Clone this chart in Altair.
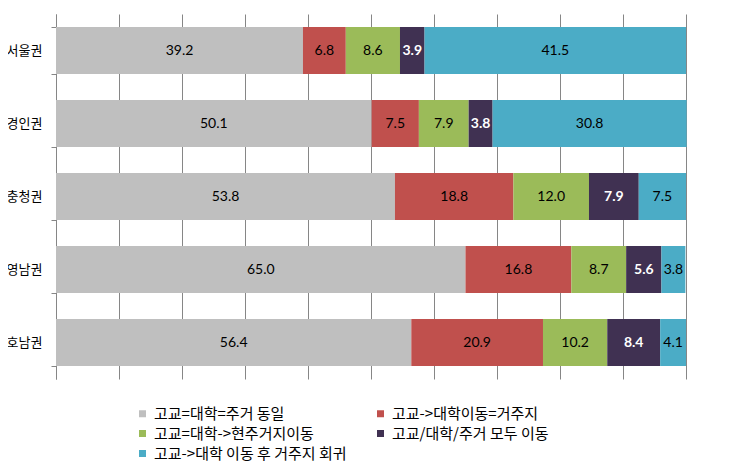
import altair as alt
import pandas as pd

regions = ["서울권", "경인권", "충청권", "영남권", "호남권"]
series = [
    "고교=대학=주거 동일",
    "고교->대학이동=거주지",
    "고교=대학->현주거지이동",
    "고교/대학/주거 모두 이동",
    "고교->대학 이동 후 거주지 회귀",
]
colors = ["#BFBFBF", "#C0504D", "#9BBB59", "#403152", "#4BACC6"]

same_all = [39.2, 50.1, 53.8, 65.0, 56.4]
move_to_univ = [6.8, 7.5, 18.8, 16.8, 20.9]
move_current = [8.6, 7.9, 12.0, 8.7, 10.2]
all_move = [3.9, 3.8, 7.9, 5.6, 8.4]
return_home = [41.5, 30.8, 7.5, 3.8, 4.1]

values_by_series = [same_all, move_to_univ, move_current, all_move, return_home]

rows = []
for si, (name, vals) in enumerate(zip(series, values_by_series)):
    for ri, reg in enumerate(regions):
        rows.append({"region": reg, "series": name, "order": si, "value": vals[ri]})
df = pd.DataFrame(rows)

base = alt.Chart(df).transform_stack(
    stack="value",
    groupby=["region"],
    sort=[alt.SortField("order", order="ascending")],
    as_=["x0", "x1"],
).transform_calculate(mid="(datum.x0 + datum.x1) / 2")

y_enc = alt.Y(
    "region:N",
    sort=regions,
    title=None,
    scale=alt.Scale(paddingInner=0.356, paddingOuter=0.178),
    axis=alt.Axis(
        domainColor="#868686",
        tickColor="#868686",
        tickSize=5,
        tickBand="extent",
        labelPadding=9,
        labelFont="Noto Sans CJK KR",
        labelFontSize=13,
        labelColor="#000000",
        grid=False,
    ),
)

x_scale = alt.Scale(domain=[0, 100], nice=False)

bars = base.mark_bar().encode(
    x=alt.X(
        "x0:Q",
        scale=x_scale,
        axis=alt.Axis(
            grid=True,
            gridColor="#868686",
            gridWidth=1,
            values=list(range(0, 101, 10)),
            labels=False,
            ticks=False,
            domain=False,
            title=None,
        ),
    ),
    x2="x1:Q",
    y=y_enc,
    color=alt.Color(
        "series:N",
        scale=alt.Scale(domain=series, range=colors),
        legend=alt.Legend(
            orient="none",
            legendX=79,
            legendY=392,
            columns=2,
            direction="horizontal",
            symbolType="square",
            symbolSize=49,
            symbolStrokeWidth=0,
            labelFont="Noto Sans CJK KR",
            labelFontSize=15,
            labelColor="#000000",
            labelLimit=400,
            rowPadding=4,
            columnPadding=26,
            labelOffset=4,
            title=None,
            padding=0,
        ),
    ),
)

text_dark = base.transform_filter("datum.order != 3").mark_text(
    font="Lato", fontSize=14, color="#000000"
).encode(
    x=alt.X("mid:Q", scale=x_scale),
    y=alt.Y("region:N", sort=regions),
    text=alt.Text("value:Q", format=".1f"),
)

text_light = base.transform_filter("datum.order == 3").mark_text(
    font="Lato", fontSize=14, color="#FFFFFF", fontWeight="bold"
).encode(
    x=alt.X("mid:Q", scale=x_scale),
    y=alt.Y("region:N", sort=regions),
    text=alt.Text("value:Q", format=".1f"),
)

chart = alt.layer(bars, text_dark, text_light).properties(
    width=630,
    height=365,
    autosize=alt.AutoSizeParams(type="none"),
    padding={"left": 48, "top": 6, "right": 36, "bottom": 88},
    background="white",
).configure_view(stroke=None)

chart.save("out.html", embed_options={"renderer": "svg", "actions": False})
